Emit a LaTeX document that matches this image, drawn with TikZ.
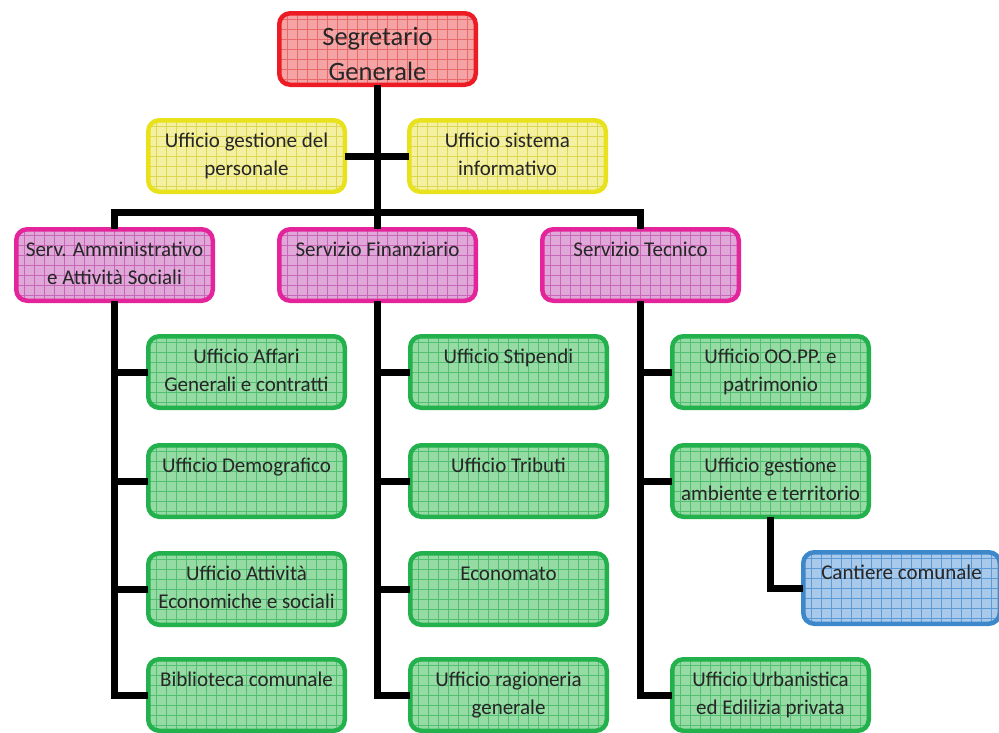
\documentclass[tikz,border=0pt]{standalone}
\usepackage{fontspec}
\setmainfont{Carlito}
\definecolor{redline}{HTML}{ED1C24}
\definecolor{redfill}{HTML}{F4A4A4}
\definecolor{redgrid}{HTML}{E86A6A}
\definecolor{yelline}{HTML}{E8E21C}
\definecolor{yelfill}{HTML}{F4F0A2}
\definecolor{yelgrid}{HTML}{DCD650}
\definecolor{pinkline}{HTML}{E4249A}
\definecolor{pinkfill}{HTML}{E0A8D8}
\definecolor{pinkgrid}{HTML}{C866B8}
\definecolor{grnline}{HTML}{22B14C}
\definecolor{grnfill}{HTML}{96DBA4}
\definecolor{grngrid}{HTML}{52C072}
\definecolor{bluline}{HTML}{3D88CB}
\definecolor{blufill}{HTML}{A8C9EA}
\definecolor{blugrid}{HTML}{5C9BD6}
\definecolor{txtcol}{HTML}{262626}
\tikzset{
  bx/.style={draw=#1line, fill=#1fill, line width=4.5pt, rounded corners=11pt,
    minimum width=196.5pt, minimum height=71.5pt, inner sep=0pt, outer sep=0pt,
    path picture={\draw[#1grid, line width=0.6pt, step=10pt]
      (path picture bounding box.south west) grid (path picture bounding box.north east);}},
  lbl/.style={inner sep=0pt, outer sep=0pt, align=center, text=txtcol,
    font=\fontsize{21}{28}\selectfont},
  toplbl/.style={inner sep=0pt, outer sep=0pt, align=center, text=txtcol,
    font=\fontsize{26.5}{35}\selectfont},
  conn/.style={draw=black, line width=7pt, line join=miter}
}
\newcommand\orgnode[5]{%
  \node[bx=#4, anchor=north west] (#1) at (#2+2.25,#3+2.25) {};
  \node[lbl, anchor=north] (#1-t) at ([yshift=-9.75pt]#1.north) {\rule{0pt}{17pt}#5};
}
\begin{document}
\begin{tikzpicture}[x=1pt,y=-1pt]
\useasboundingbox (0,0) rectangle (999,732);
% top
\node[bx=red, anchor=north west] (sg) at (277+2.25,11+2.25) {};
\node[toplbl, anchor=north] (sg-t) at ([yshift=-10.75pt]sg.north) {\rule{0pt}{21pt}Segretario\\Generale};
% staff
\orgnode{ugp}{146}{118}{yel}{Ufficio gestione del\\personale}
\orgnode{usi}{407}{118}{yel}{Ufficio sistema\\informativo}
% services
\orgnode{sa}{14}{227}{pink}{Serv. Amministrativo\\e Attività Sociali}
\orgnode{sf}{277}{227}{pink}{Servizio Finanziario}
\orgnode{st}{540}{227}{pink}{Servizio Tecnico}
% column 1
\orgnode{uag}{146}{334}{grn}{Ufficio Affari\\Generali e contratti}
\orgnode{ud}{146}{443}{grn}{Ufficio Demografico}
\orgnode{uae}{146}{551}{grn}{Ufficio Attività\\Economiche e sociali}
\orgnode{bib}{146}{657}{grn}{Biblioteca comunale}
% column 2
\orgnode{ust}{408}{334}{grn}{Ufficio Stipendi}
\orgnode{utr}{408}{443}{grn}{Ufficio Tributi}
\orgnode{eco}{408}{551}{grn}{Economato}
\orgnode{urg}{408}{657}{grn}{Ufficio ragioneria\\generale}
% column 3
\orgnode{uoo}{670}{334}{grn}{Ufficio OO.PP. e\\patrimonio}
\orgnode{uga}{670}{443}{grn}{Ufficio gestione\\ambiente e territorio}
\orgnode{uur}{670}{657}{grn}{Ufficio Urbanistica\\ed Edilizia privata}
\orgnode{cc}{801}{550}{blu}{Cantiere comunale}
% connectors
\coordinate (bar) at (377.5,212);
\draw[conn] (sg.south) -- (bar);
\draw[conn] (ugp.east) -- (usi.west);
\draw[conn] (sa.north) |- (bar) -| (st.north);
\draw[conn] (bar) -- (sf.north);
\draw[conn] (sa.south) |- (bib.west);
\draw[conn] (uag.west -| sa.south) -- (uag.west);
\draw[conn] (ud.west -| sa.south) -- (ud.west);
\draw[conn] (uae.west -| sa.south) -- (uae.west);
\draw[conn] (sf.south) |- (urg.west);
\draw[conn] (ust.west -| sf.south) -- (ust.west);
\draw[conn] (utr.west -| sf.south) -- (utr.west);
\draw[conn] (eco.west -| sf.south) -- (eco.west);
\draw[conn] (st.south) |- (uur.west);
\draw[conn] (uoo.west -| st.south) -- (uoo.west);
\draw[conn] (uga.west -| st.south) -- (uga.west);
\draw[conn] (uga.south) |- (cc.west);
\end{tikzpicture}
\end{document}
